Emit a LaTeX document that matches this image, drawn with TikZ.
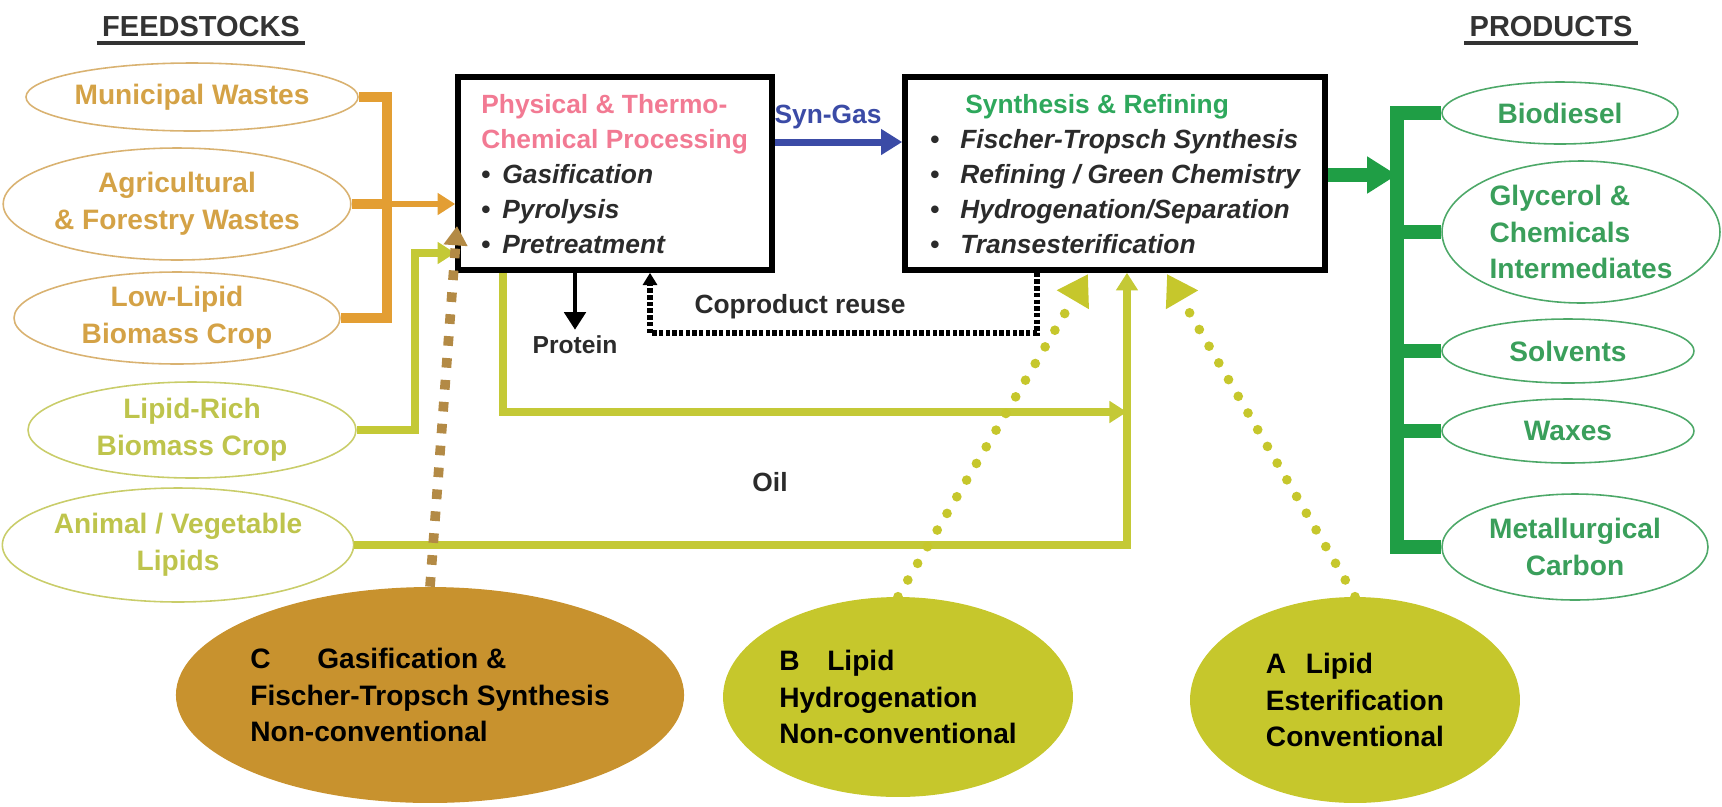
\documentclass[tikz,border=0pt]{standalone}
\usepackage{fontspec}
\setmainfont{Liberation Sans}
\usetikzlibrary{shapes.geometric,arrows.meta}

\definecolor{feedorange}{HTML}{E39E33}
\definecolor{feededge}{HTML}{D9B271}
\definecolor{feedtext}{HTML}{D4A246}
\definecolor{lipgreen}{HTML}{C4C936}
\definecolor{lipedge}{HTML}{C9CD6A}
\definecolor{liptext}{HTML}{BEC44C}
\definecolor{prodgreen}{HTML}{1F9E45}
\definecolor{prodedge}{HTML}{4DA868}
\definecolor{prodtext}{HTML}{3A9F5B}
\definecolor{routeCfill}{HTML}{C8922E}
\definecolor{routeABfill}{HTML}{C6C72C}
\definecolor{cdotcolor}{HTML}{B38A45}
\definecolor{procpink}{HTML}{F27A93}
\definecolor{syntitle}{HTML}{2EA85C}
\definecolor{gasblue}{HTML}{3B4BA6}
\definecolor{titlegray}{HTML}{333333}
\definecolor{notegray}{HTML}{2B2B2B}

\begin{document}
\begin{tikzpicture}[x=0.02cm,y=-0.02cm,
    feedstock/.style={ellipse,draw=feededge,line width=0.9pt,inner sep=0pt,align=center,
      text=feedtext,font=\fontsize{16}{21}\selectfont\bfseries},
    lipidstock/.style={feedstock,draw=lipedge,text=liptext},
    product/.style={feedstock,draw=prodedge,text=prodtext},
    route/.style={ellipse,inner sep=0pt,align=left,text=black,font=\fontsize{16}{21}\selectfont\bfseries},
    stagebox/.style={draw,line width=3.2pt,minimum height=3.86cm,fill=white},
    stagetext/.style={anchor=west,inner sep=0pt,align=left,text=notegray,font=\fontsize{15}{19.8}\selectfont\bfseries},
    heading/.style={text=titlegray,font=\fontsize{16.5}{20}\selectfont\bfseries,inner sep=3pt},
    note/.style={text=notegray,font=\fontsize{15}{18}\selectfont\bfseries},
    feedline/.style={draw=feedorange,line width=5.5pt},
    lipline/.style={draw=lipgreen,line width=4.5pt},
    prodline/.style={draw=prodgreen,line width=7.5pt},
    cdots/.style={draw=cdotcolor,line width=5.5pt,dash pattern=on 5.5pt off 7pt,
      -{Triangle[length=11pt,width=13pt]}},
    abdots/.style={draw=routeABfill,line width=5.5pt,line cap=round,dash pattern=on 0pt off 11pt,
      -{Triangle[length=17pt,width=20pt]}},
    coprodline/.style={draw=black,line width=3pt,dash pattern=on 2.5pt off 1.3pt,
      -{Triangle[length=7pt,width=8pt]}}
  ]
  \useasboundingbox (0,0) rectangle (1722,806);

  \node[heading] (feedtitle) at (201,27) {FEEDSTOCKS};
  \draw[titlegray,line width=2pt] (feedtitle.south west) -- (feedtitle.south east);
  \node[heading] (prodtitle) at (1551,27) {PRODUCTS};
  \draw[titlegray,line width=2pt] (prodtitle.south west) -- (prodtitle.south east);

  \node[feedstock,minimum width=6cm,minimum height=1.36cm] (muni) at (192,97) {Municipal Wastes};
  \node[feedstock,minimum width=6.6cm,minimum height=2.24cm] (agri) at (177,204) {Agricultural\\\& Forestry Wastes};
  \node[feedstock,minimum width=6.52cm,minimum height=1.84cm] (lowlip) at (177,318) {Low-Lipid\\Biomass Crop};
  \node[lipidstock,minimum width=6.56cm,minimum height=1.92cm] (liprich) at (192,430) {Lipid-Rich\\Biomass Crop};
  \node[lipidstock,minimum width=6.6cm,minimum height=2.28cm] (animal) at (178,545) {Animal / Vegetable\\Lipids};

  \node[stagebox,minimum width=6.28cm] (proc) at (615,173.5) {};
  \node[stagetext] (proctxt) at (481,174) {\textcolor{procpink}{Physical \& Thermo-}\\
    \textcolor{procpink}{Chemical Processing}\\
    \makebox[0.42cm][l]{\textbullet}\textit{Gasification}\\
    \makebox[0.42cm][l]{\textbullet}\textit{Pyrolysis}\\
    \makebox[0.42cm][l]{\textbullet}\textit{Pretreatment}};

  \node[stagebox,minimum width=8.4cm] (synth) at (1115,173.5) {};
  \node[stagetext] (synthtxt) at (930,174) {\hspace*{0.7cm}\textcolor{syntitle}{Synthesis \& Refining}\\
    \makebox[0.6cm][l]{\textbullet}\textit{Fischer-Tropsch Synthesis}\\
    \makebox[0.6cm][l]{\textbullet}\textit{Refining / Green Chemistry}\\
    \makebox[0.6cm][l]{\textbullet}\textit{Hydrogenation/Separation}\\
    \makebox[0.6cm][l]{\textbullet}\textit{Transesterification}};

  \node[product,minimum width=4.72cm,minimum height=1.24cm] (biodiesel) at (1560,113) {Biodiesel};
  \node[product,minimum width=5.56cm,minimum height=2.84cm,align=left] (glycerol) at (1581,232) {Glycerol \&\\Chemicals\\Intermediates};
  \node[product,minimum width=5.04cm,minimum height=1.28cm] (solvents) at (1568,351) {Solvents};
  \node[product,minimum width=5.04cm,minimum height=1.28cm] (waxes) at (1568,431) {Waxes};
  \node[product,minimum width=5.32cm,minimum height=2.12cm] (metcarbon) at (1575,547) {Metallurgical\\Carbon};

  \node[route,fill=routeCfill,minimum width=9.52cm,minimum height=4.32cm] (routeC) at (430,695)
    {\makebox[1.34cm][l]{C}Gasification \&\\Fischer-Tropsch Synthesis\\Non-conventional};
  \node[route,fill=routeABfill,minimum width=7cm,minimum height=4cm] (routeB) at (898,697)
    {\makebox[0.96cm][l]{B}Lipid\\Hydrogenation\\Non-conventional};
  \node[route,fill=routeABfill,minimum width=6.6cm,minimum height=4.12cm] (routeA) at (1355,700)
    {\makebox[0.8cm][l]{A}Lipid\\Esterification\\Conventional};

  \node[note,text=gasblue] (syngas) at (828,117) {Syn-Gas};
  \node[note,font=\fontsize{14}{17}\selectfont\bfseries] (protein) at (575,345) {Protein};
  \node[note] (coprod) at (800,307) {Coproduct reuse};
  \node[note] (oil) at (770,482) {Oil};

  \coordinate (ojoin) at (387,204);
  \draw[feedline] (muni.east) -| (ojoin);
  \draw[feedline] (lowlip.east) -| (ojoin);
  \draw[feedline] (agri.east) -- (ojoin);
  \draw[draw=feedorange,line width=3.6pt,-{Triangle[length=10pt,width=12pt]}] (ojoin) -- (ojoin -| proc.west);

  \coordinate (ljoin) at (415,253);
  \draw[lipline,-{Triangle[length=10pt,width=12pt]}] (liprich.east) -| (ljoin) -- (ljoin -| proc.west);

  \coordinate (oilfork) at (503,412);
  \coordinate (lipin) at (1127,545);
  \draw[lipline,-{Triangle[length=10pt,width=12pt]}] (oilfork |- proc.south) -- (oilfork) -- (oilfork -| lipin);
  \draw[lipline,-{Triangle[length=10pt,width=12pt]}] (animal.east) -- (animal.east -| lipin) -- (lipin |- synth.south);

  \draw[gasblue,line width=4pt,-{Triangle[length=12pt,width=14pt]}] ([yshift=0.63cm]proc.east) -- ([yshift=0.63cm]synth.west);
  \draw[black,line width=2.8pt,-{Triangle[length=10pt,width=12pt]}] (protein.north |- proc.south) -- (protein.north);

  \coordinate (cpright) at (1037,333);
  \coordinate (cpleft) at (650,333);
  \draw[coprodline] (cpright |- synth.south) -- (cpright) -- (cpleft) -- (cpleft |- proc.south);

  \coordinate (gbus) at (1397,175);
  \draw[prodline,-{Triangle[length=17pt,width=20pt]}] (synth.east |- gbus) -- (gbus);
  \draw[prodline] (biodiesel.west) -| (gbus) |- (metcarbon.west);
  \foreach \p in {glycerol,solvents,waxes}
    \draw[prodline] (\p.west) -- (\p.west -| gbus);

  \coordinate (cin) at (457,226);
  \coordinate (bin) at (1088,274);
  \coordinate (ain) at (1167,274);
  \draw[cdots] (routeC.north) -- (cin);
  \draw[abdots] (routeB.north) -- (bin);
  \draw[abdots] (routeA.north) -- (ain);
\end{tikzpicture}
\end{document}
